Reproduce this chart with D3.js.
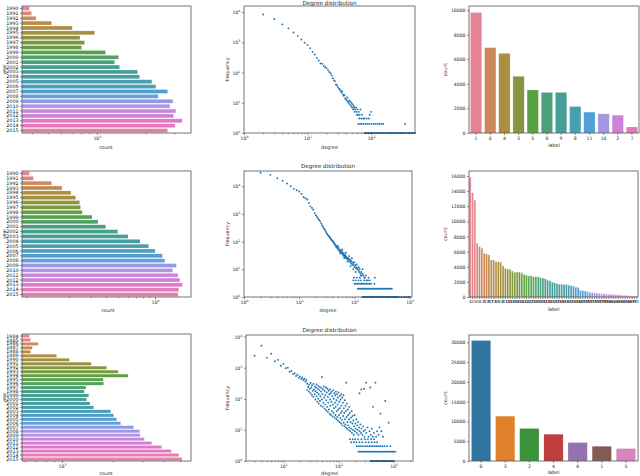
<!DOCTYPE html>
<html>
<head>
<meta charset="utf-8" />
<title>Degree distributions</title>
<script src="https://cdn.jsdelivr.net/npm/d3@7"></script>
<style>
  body { margin: 0; background: #fff; }
  svg { font-family: 'DejaVu Sans', sans-serif; }
</style>
</head>
<body>
<svg id="fig" width="640" height="476"></svg>
<script>
// ---- data ----
const years26 = ['1990','1991','1992','1993','1994','1995','1996','1997','1998','1999','2000','2001','2002',
  '2003','2004','2005','2006','2007','2008','2009','2010','2011','2012','2013','2014','2015'];
const years32 = ['1984','1985','1986','1987','1988','1989','1990','1991','1992','1993','1994','1995','1996',
  '1997','1998','1999','2000','2001','2002','2003','2004','2005','2006','2007','2008','2009','2010','2011',
  '2012','2013','2014','2015'];

const yearCountsA = [385,397,423,527,706,968,787,840,805,1130,1358,1285,1378,1778,1828,2175,2302,2716,2378,
  2926,2805,3053,2954,3337,3022,2716];
const yearCountsB = [951,1026,1445,1754,2075,2264,2442,2480,2565,3076,3443,3975,4977,6030,7556,8890,10006,
  11470,12000,14900,13930,15380,15900,16680,15600,15380];
const yearCountsC = [640,653,724,667,653,930,1105,1489,1837,2152,2465,1754,1765,1387,1355,1439,1400,1465,
  1541,1942,2023,2107,2224,2656,2884,2900,3069,3396,3890,4436,4921,5127];

const labelsA = ['1','0','4','3','5','6','9','8','11','10','2','7'];
const labelCountsA = [9800,6940,6475,4615,3500,3300,3300,2156,1700,1557,1450,490];

const labelsB = ['4','2','3','0','1','12','7','10','5','17','13','6','9','21','8','11','15','19','14','25',
  '16','20','18','23','22','30','27','24','26','29','33','28','31','35','32','40','34','37','36','39','42',
  '38','41','45','43','44','48','46','47','50','49','52','51','55','53','54','57','56','59','58','61','60',
  '63','62','65','64','67','66','69','68','70','71'];
const labelCountsB = [15800,13800,12800,7100,6670,6450,5780,5700,5560,4890,4890,4670,4670,4580,4090,3780,
  3690,3650,3420,3290,3290,3290,3200,2980,2890,2800,2800,2670,2670,2670,2580,2490,2400,2220,2130,1960,1870,
  1780,1690,1690,1640,1640,1600,1510,1420,1330,1240,890,840,800,710,620,580,530,530,490,440,440,400,360,360,
  310,310,270,270,220,220,180,180,130,130,90];

const labelsC = ['0','3','2','4','6','1','5'];
const labelCountsC = [30457,11345,8223,6777,4670,3731,3147];

// degree distributions: [degree, frequency]
const degA = [[2,8300],[3,5880],[4,3900],[5,2890],[6,2100],[7,1630],[8,1240],[9,970],[10,820],[11,635],
  [12,480],[13,395],[14,305],[15,250],[16,200],[17,195],[18,165],[19,150],[20,140],[21,120],[22,105],[23,95],
  [24,80],[25,65],[26,55],[27,52],[28,40],[29,38],[30,33],[31,30],[32,28],[33,25],[34,22],[35,24],[36,19],
  [37,17],[38,18],[39,14],[40,13],[41,12],[42,15],[43,11],[44,10],[45,12],[46,9],[47,11],[48,8],[49,10],
  [50,7],[51,9],[52,6],[53,8],[54,7],[55,5],[56,6],[58,7],[59,5],[60,4],[61,6],[62,4],[64,5],[65,3],[66,4],
  [68,6],[70,3],[72,4],[75,3],[78,3],[85,3],[92,3],[95,4],[100,5]];
const degAtwos = [63,67,71,76,82,88,94,102,110,118,127,136,146,155,343];
const degAones = [80,84,88,92,97,102,107,112,118,124,130,137,144,151,158,166,175,184,193,203,213,224,235,
  247,260,273,287,301,316,332,349,366,385,404,425,446,469,490];

const degB = [[2,30700],[3,25800],[4,19500],[5,15800],[6,12600],[7,10000],[8,8000],[9,7200],[10,6440],
  [11,5250],[12,4100],[13,3700],[14,3300],[15,2500],[16,1880],[17,1650],[18,1420],[19,1070],[20,900],
  [21,780],[22,680],[23,600],[24,540],[25,450],[26,380],[27,340],[28,300],[29,270],[30,240],[31,210],
  [32,190],[33,175],[34,160],[35,150],[36,140],[37,130],[38,120],[39,112],[40,105],[41,100],[42,92],[43,88],
  [44,80],[45,75],[46,70],[47,63],[48,68],[49,58],[50,55],[51,60],[52,50],[53,48],[54,52],[55,45],[56,42],
  [57,47],[58,40],[59,38],[60,43],[61,36],[62,35],[63,31],[64,38],[65,30],[66,33],[67,28],[68,32],[69,26],
  [70,29],[72,27],[73,24],[75,26],[76,22],[78,24],[80,20],[82,23],[84,18],[86,21],[88,16],[90,19],[92,15],
  [95,17],[97,14],[100,12],[103,14],[106,11],[109,12],[112,10],[115,11],[118,9],[121,8],[124,10],[128,7],
  [132,8],[136,6],[140,7],[145,6],[150,5],[155,5],[165,4],[175,4],[190,4],[234,5],[98,5],[110,5],[125,5],
  [95,4],[105,4],[118,4],[130,4],[150,4],
  [50,70],[55,38],[60,52],[65,25],[70,40],[75,19],[80,30],[85,13],[90,25],[95,10],[100,18],[105,8],
  [110,15],[120,12],[130,6],[140,10],[160,6],[180,5]];
const degBthrees = [100,106,113,120,128,136,145,155,165,176,188,200,230];
const degBtwos = [115,120,125,130,136,142,148,154,161,168,175,183,191,199,208,217,226,236,246,257,268,280,
  292,305,318,332,346,361,376,392,409,430,450,475];
const degBones = [140,146,152,158,165,172,179,187,195,203,212,221,230,240,250,261,272,283,295,308,321,335,
  349,364,379,395,412,430,448,467,487,508,530,552,576,600,640,700,760,820,880,950,1000];

const degC = [[3,2400],[4,5100],[5,2100],[6,2800],[7,1600],[8,1780],[9,1150],[10,1320],[11,960],[12,1000],
  [13,740],[14,780],[15,620],[16,660],[17,540],[18,590],[19,470],[20,520],[21,430],[22,480],[23,400],[24,440],
  [25,360],[26,400],
  [27,310],[27,190],[28,240],[29,170],[29,280],[30,210],[31,150],[31,320],[32,230],[33,130],[33,270],[34,180],
  [35,115],[35,300],[36,200],[37,140],[37,250],[38,95],[38,175],[39,230],[40,120],[40,290],[41,80],[41,160],
  [42,210],[43,100],[43,260],[44,70],[44,140],[45,190],[46,85],[46,240],[47,120],[48,60],[48,170],[49,220],
  [50,95],[50,500],[51,140],[52,55],[52,200],[53,75],[54,250],[55,110],[56,48],[56,180],[57,65],[58,130],
  [59,230],[60,42],[60,90],[61,160],[62,55],[63,210],[64,38],[64,115],[65,75],[66,180],[67,45],[68,140],
  [69,33],[70,95],[70,200],[71,60],[72,150],[73,30],[74,80],[75,170],[76,40],[77,120],[78,27],[79,65],
  [80,190],[81,35],[82,100],[83,50],[84,150],[85,25],[86,75],[87,130],[88,30],[89,55],[90,170],[91,22],
  [92,90],[93,40],[94,140],[95,26],[96,65],[97,110],[98,20],[99,45],[100,160],[102,30],[103,80],[104,18],
  [105,125],[106,50],[108,24],[109,95],[110,35],[111,16],[112,140],[113,60],[115,21],[116,40],[117,110],
  [118,14],[120,75],[121,28],[123,130],[124,17],[125,50],[127,35],[128,13],[130,90],[131,22],[133,15],
  [134,60],[136,40],[137,12],[138,330],[140,26],[142,70],[143,11],[145,18],[147,45],[149,14],[150,30],
  [152,10],[155,22],[157,55],[158,12],[160,35],[163,9],[165,18],[168,25],[170,11],[173,40],[175,8],[178,16],
  [180,28],[183,10],[186,20],[189,7],[192,13],[195,30],[198,9],[202,16],[206,11],[210,22],[214,8],[218,14],
  [222,10],[226,18],[230,7],[235,12],[240,150],[242,9],[248,15],[255,8],[258,200],[262,11],[270,7],[278,13],
  [285,9],[290,210],[295,6],[305,10],[316,330],[320,8],[335,12],[350,6],[365,9],[376,230],[385,7],[400,11],
  [420,6],[424,55],[440,8],[466,330],[480,6],[500,9],[530,7],[550,12],[575,33],[600,9],[640,6],[703,85],
  [810,17]];
const degCfives = [160,180,200,225,260,300,340,390,440];
const degCfours = [170,190,210,240,270,310,350,400,450,500];
const degCthrees = [215,235,255,280,305,330,360,390,420,455,490,530,570,620,680,750,870];
const degCtwos = [230,245,260,275,290,305,320,340,360,380,400,420,445,470,495,520,550,580,610,640,680,720,
  760,800,850,900,950,1000,1070];
const degCones = [380,400,420,440,460,485,510,535,560,590,620,650,680,715,750,790,830,870,910,960,1000];

// ---- styling ----
const svg = d3.select('#fig');
const tickFont = 4.6;
const ink = '#262626';
const dotColor = '#1f77b4';
const huslAnchors = ['#f77189','#d58c32','#a4a031','#50b131','#34ae91','#37abb5','#3ba3ec','#bb83f4','#f564d4'];
const tabColors = ['#3274a1','#e1812c','#3a923a','#c03d3e','#9372b2','#845b53','#d684bd'];

function huslPalette(n) {
  const out = [];
  for (let i = 0; i < n; i++) {
    const p = (i / n) * huslAnchors.length;
    const k = Math.floor(p);
    const c = d3.hsl(d3.interpolateRgb(huslAnchors[k], huslAnchors[(k + 1) % huslAnchors.length])(p - k));
    c.s *= 0.75;
    out.push(c.formatHex());
  }
  return out;
}

function styleAxis(g) {
  g.select('.domain').remove();
  g.selectAll('line').attr('stroke', ink).attr('stroke-width', 0.5);
  g.selectAll('text').attr('font-size', tickFont).attr('fill', ink)
    .attr('font-family', 'DejaVu Sans, sans-serif');
}

function powLabels(g) {
  g.selectAll('.tick text').each(function (d) {
    const e = Math.round(Math.log10(d));
    const t = d3.select(this).text('10');
    t.append('tspan').attr('dy', -1.8).attr('font-size', tickFont * 0.7).text(e);
  });
}

function frame(b) {
  svg.append('rect').attr('x', b.x0).attr('y', b.y0)
    .attr('width', b.x1 - b.x0).attr('height', b.y1 - b.y0)
    .attr('fill', 'none').attr('stroke', '#3a3a3a').attr('stroke-width', 0.7);
}

function label(x, y, text, rotate, size) {
  const t = svg.append('text').attr('x', x).attr('y', y).attr('text-anchor', 'middle')
    .attr('font-size', size || 5).attr('fill', ink).text(text);
  if (rotate) t.attr('transform', `rotate(-90,${x},${y})`);
}

// horizontal bars on a log count axis
function yearPanel(b, cats, counts, dom, major, minor, labelX, labelY) {
  const x = d3.scaleLog().domain(dom).range([b.x0, b.x1]);
  const y = d3.scaleBand().domain(cats).range([b.y0, b.y1]).paddingInner(0.2).paddingOuter(0.1);
  const cols = huslPalette(cats.length);
  svg.append('g').selectAll('rect').data(counts).join('rect')
    .attr('x', b.x0).attr('y', (d, i) => y(cats[i]))
    .attr('width', d => x(d) - b.x0).attr('height', y.bandwidth())
    .attr('fill', (d, i) => cols[i]).attr('stroke', '#fff').attr('stroke-opacity', 0.5).attr('stroke-width', 0.4);
  svg.append('g').attr('transform', `translate(0,${b.y1})`)
    .call(d3.axisBottom(x).tickValues(minor).tickSize(1.3).tickFormat('')).call(styleAxis);
  svg.append('g').attr('transform', `translate(0,${b.y1})`)
    .call(d3.axisBottom(x).tickValues(major).tickSize(2.2).tickPadding(1.5)).call(styleAxis).call(powLabels);
  svg.append('g').attr('transform', `translate(${b.x0},0)`)
    .call(d3.axisLeft(y).tickSize(2).tickPadding(1.5)).call(styleAxis)
    .call(g => g.selectAll('text').attr('font-size', 4.8).attr('fill', '#111'));
  frame(b);
  label(6, (b.y0 + b.y1) / 2, 'year', true, 4.8);
  label(labelX, labelY, 'count', false, 4.8);
}

// vertical bars of label counts
function labelPanel(b, cats, counts, colors, ymax, ticks, tickSizeFont, labelY) {
  const x = d3.scaleBand().domain(cats).range([b.x0, b.x1]).paddingInner(0.2).paddingOuter(0.1);
  const y = d3.scaleLinear().domain([0, ymax]).range([b.y1, b.y0]);
  svg.append('g').selectAll('rect').data(counts).join('rect')
    .attr('x', (d, i) => x(cats[i])).attr('y', d => y(d))
    .attr('width', x.bandwidth()).attr('height', d => b.y1 - y(d))
    .attr('fill', (d, i) => colors[i]).attr('stroke', '#fff').attr('stroke-opacity', 0.5).attr('stroke-width', 0.4);
  svg.append('g').attr('transform', `translate(0,${b.y1})`)
    .call(d3.axisBottom(x).tickSize(2).tickPadding(1.5)).call(styleAxis)
    .call(g => g.selectAll('text').attr('font-size', tickSizeFont));
  svg.append('g').attr('transform', `translate(${b.x0},0)`)
    .call(d3.axisLeft(y).tickValues(ticks).tickSize(2).tickPadding(1.5).tickFormat(d3.format('d'))).call(styleAxis);
  frame(b);
  label(447, (b.y0 + b.y1) / 2, 'count', true, 4.8);
  label((b.x0 + b.x1) / 2, labelY, 'label', false, 4.8);
}

// log-log degree scatter
function degreePanel(b, pts, xdom, ydom, xMajor, xMinor, yMajor, titleY, labelY) {
  const x = d3.scaleLog().domain(xdom).range([b.x0, b.x1]);
  const y = d3.scaleLog().domain(ydom).range([b.y1, b.y0]);
  svg.append('g').selectAll('circle').data(pts).join('circle')
    .attr('cx', d => x(d[0])).attr('cy', d => y(d[1])).attr('r', 0.95).attr('fill', dotColor);
  svg.append('g').attr('transform', `translate(0,${b.y1})`)
    .call(d3.axisBottom(x).tickValues(xMinor).tickSize(1.2).tickFormat('')).call(styleAxis);
  svg.append('g').attr('transform', `translate(0,${b.y1})`)
    .call(d3.axisBottom(x).tickValues(xMajor).tickSize(2.2).tickPadding(1.5)).call(styleAxis).call(powLabels);
  svg.append('g').attr('transform', `translate(${b.x0},0)`)
    .call(d3.axisLeft(y).tickValues(yMajor).tickSize(2.2).tickPadding(1.5)).call(styleAxis).call(powLabels);
  frame(b);
  label((b.x0 + b.x1) / 2, titleY, 'Degree distribution', false, 5.6);
  label(229, (b.y0 + b.y1) / 2, 'frequency', true, 4.8);
  label((b.x0 + b.x1) / 2, labelY, 'degree', false, 4.8);
}

function withRow(list, f) { return list.map(d => [d, f]); }

// ---- row 1 ----
yearPanel({x0: 22, x1: 191, y0: 6, y1: 133}, years26, yearCountsA, [347, 3780],
  [1000], [400,500,600,700,800,900,2000,3000], 106, 149);
degreePanel({x0: 244, x1: 415, y0: 6, y1: 133},
  degA.concat(withRow(degAtwos, 2), withRow(degAones, 1)),
  [1, 490], [1, 15850], [1, 10, 100], [2,3,4,5,6,7,8,9,20,30,40,50,60,70,80,90,200,300,400],
  [1, 10, 100, 1000, 10000], 4.5, 149);
labelPanel({x0: 469, x1: 639, y0: 6, y1: 133}, labelsA, labelCountsA, huslPalette(12),
  10330, [0, 2000, 4000, 6000, 8000, 10000], 4.6, 147);

// ---- row 2 ----
yearPanel({x0: 22, x1: 191, y0: 171, y1: 297}, years26, yearCountsB, [830, 19600],
  [10000], [900,2000,3000,4000,5000,6000,7000,8000,9000], 108, 312);
degreePanel({x0: 244, x1: 412, y0: 171, y1: 297},
  degB.concat(withRow(degBthrees, 3), withRow(degBtwos, 2), withRow(degBones, 1)),
  [1, 1100], [1, 35500], [1, 10, 100, 1000], [2,3,4,5,6,7,8,9,20,30,40,50,60,70,80,90,200,300,400,500,600,700,800,900],
  [1, 10, 100, 1000, 10000], 168, 312);
labelPanel({x0: 469, x1: 638, y0: 171, y1: 297}, labelsB, labelCountsB, huslPalette(72),
  16667, [0, 2000, 4000, 6000, 8000, 10000, 12000, 14000, 16000], 4.0, 311);

// ---- row 3 ----
yearPanel({x0: 22, x1: 191, y0: 334, y1: 461}, years32, yearCountsC, [580, 5800],
  [1000], [600,700,800,900,2000,3000,4000,5000], 106, 475);
degreePanel({x0: 246, x1: 413, y0: 335, y1: 461},
  degC.concat(withRow(degCfives, 5), withRow(degCfours, 4), withRow(degCthrees, 3),
    withRow(degCtwos, 2), withRow(degCones, 1)),
  [2.1, 2240], [1, 11200], [10, 100, 1000], [3,4,5,6,7,8,9,20,30,40,50,60,70,80,90,200,300,400,500,600,700,800,900,2000],
  [1, 10, 100, 1000, 10000], 332, 475);
labelPanel({x0: 469, x1: 638, y0: 335, y1: 461}, labelsC, labelCountsC, tabColors,
  31850, [0, 5000, 10000, 15000, 20000, 25000, 30000], 4.6, 474);
</script>
</body>
</html>
